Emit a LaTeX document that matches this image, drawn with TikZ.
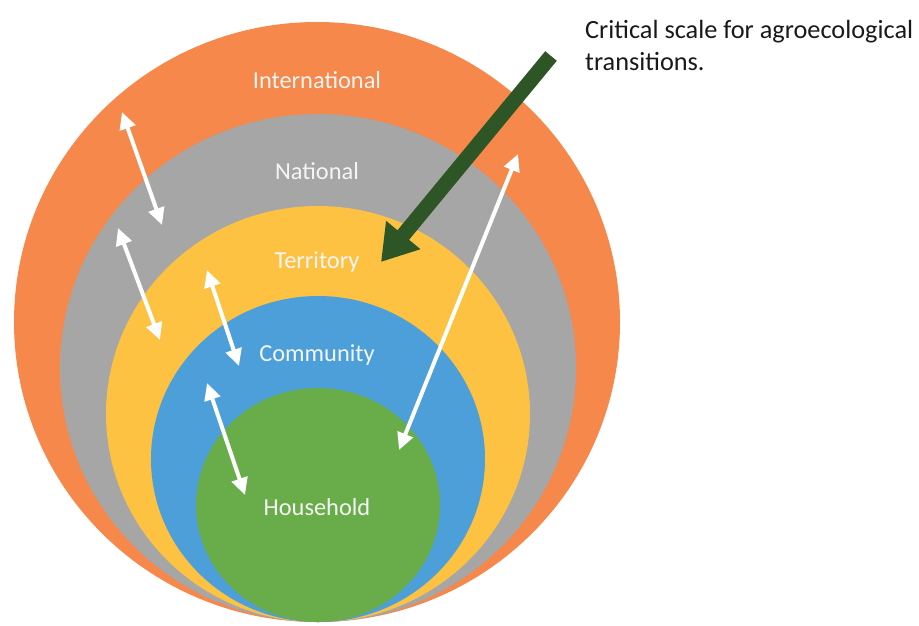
\documentclass[tikz,border=0pt]{standalone}
\usepackage{fontspec}
\setmainfont{Carlito}
\usepackage{tikz}
\usetikzlibrary{arrows.meta}

\definecolor{intlorange}{HTML}{F5884A}
\definecolor{natgray}{HTML}{A6A6A6}
\definecolor{terryellow}{HTML}{FDC242}
\definecolor{commblue}{HTML}{4D9FDA}
\definecolor{housegreen}{HTML}{69AD4A}
\definecolor{critgreen}{HTML}{2E5526}

\begin{document}
\begin{tikzpicture}[x=1pt,y=-1pt]
        \tikzstyle{level}=[text=white!96!black, font=\fontsize{24.4}{29}\selectfont, anchor=base]
        \tikzstyle{twoway}=[draw=white, line width=4pt, {Triangle[length=17pt,width=16pt]}-{Triangle[length=17pt,width=16pt]}]
        \tikzstyle{critical}=[draw=critgreen, line width=15pt, -{Triangle[length=35pt,width=42pt]}]
        \useasboundingbox (0,0) rectangle (919,625);
        % nested scales
        \fill [intlorange] (317,322) ellipse [x radius=303, y radius=300];
        \fill [natgray] (318,368) ellipse [x radius=258, y radius=254];
        \fill [terryellow] (318,414) ellipse [x radius=212, y radius=208];
        \fill [commblue] (318,459) ellipse [x radius=167, y radius=163];
        \fill [housegreen] (318,505) ellipse [x radius=122, y radius=117];
        % labels
        \node [level] (intl) at (317,88) {International};
        \node [level] (nat) at (317,179) {National};
        \node [level] (terr) at (317,268) {Territory};
        \node [level] (comm) at (317,361) {Community};
        \node [level] (house) at (317,515) {Household};
        % interactions between scales
        \coordinate (a1) at (122,112);
        \coordinate (b1) at (162,225);
        \coordinate (a2) at (118,228);
        \coordinate (b2) at (160,340);
        \coordinate (a3) at (207,270);
        \coordinate (b3) at (239,366);
        \coordinate (a4) at (207,383);
        \coordinate (b4) at (245,495);
        \coordinate (a5) at (518,154);
        \coordinate (b5) at (399,450);
        \foreach \i in {1,...,5}
          \draw [twoway] (a\i) -- (b\i);
        % critical scale
        \node [anchor=north west, inner sep=0pt, align=left, text=black!90,
               font=\fontsize{26.3}{32}\selectfont] (crit) at (585,20)
              {Critical scale for agroecological\\transitions.};
        \coordinate (crittail) at (551,56);
        \draw [critical] (crittail) -- (381,262);
      \end{tikzpicture}
\end{document}
